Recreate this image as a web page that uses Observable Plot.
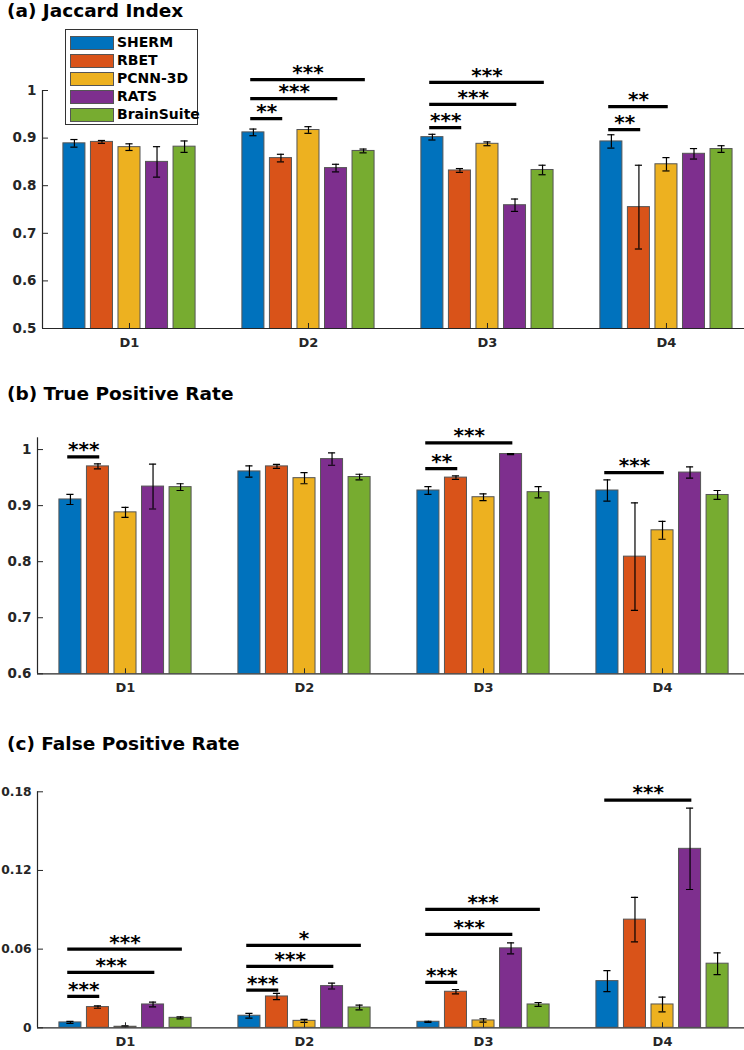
<!DOCTYPE html>
<html><head><meta charset="utf-8">
<script src="https://cdn.jsdelivr.net/npm/d3@7"></script>
<script src="https://cdn.jsdelivr.net/npm/@observablehq/plot@0.6"></script>
<style>
body{margin:0;background:#fff;}
#root{position:relative;width:744px;height:1050px;overflow:hidden;font-family:"DejaVu Sans",sans-serif;}
.title{position:absolute;left:7px;font-weight:bold;font-size:18.5px;line-height:20px;height:20px;color:#000;white-space:nowrap;}
.panel{position:absolute;left:0;}
.panel svg{display:block;overflow:visible;}
#legend{position:absolute;left:65px;top:29px;width:131px;height:94px;border:1.5px solid #333;background:#fff;}
.lrow{position:absolute;left:4px;height:13px;}
.sw{position:absolute;left:0;top:0;width:42px;height:12px;border:1px solid #555;}
.lt{position:absolute;left:47px;top:-4px;font-weight:bold;font-size:14px;line-height:20px;color:#000;white-space:nowrap;}
</style></head><body><div id="root"></div>
<script>
const methods = ["SHERM", "RBET", "PCNN-3D", "RATS", "BrainSuite"];
const colors = ["#0072BD", "#D95319", "#EDB120", "#7E2F8E", "#77AC30"];
const datasets = ["D1", "D2", "D3", "D4"];

// (a) Jaccard index: mean and error per dataset (rows) and method (columns)
const jaccardMean = [
  [0.889, 0.892, 0.881, 0.850, 0.882],
  [0.912, 0.858, 0.917, 0.837, 0.873],
  [0.902, 0.832, 0.888, 0.759, 0.833],
  [0.893, 0.755, 0.845, 0.867, 0.877]
];
const jaccardErr = [
  [0.008, 0.003, 0.007, 0.032, 0.012],
  [0.007, 0.008, 0.007, 0.008, 0.004],
  [0.006, 0.004, 0.004, 0.013, 0.010],
  [0.014, 0.088, 0.014, 0.011, 0.007]
];
// (b) True positive rate
const tprMean = [
  [0.911, 0.970, 0.888, 0.934, 0.933],
  [0.961, 0.970, 0.949, 0.983, 0.951],
  [0.927, 0.950, 0.915, 0.992, 0.924],
  [0.927, 0.809, 0.856, 0.959, 0.919]
];
const tprErr = [
  [0.009, 0.0045, 0.009, 0.040, 0.006],
  [0.010, 0.0035, 0.010, 0.011, 0.005],
  [0.007, 0.003, 0.006, 0.001, 0.010],
  [0.019, 0.096, 0.016, 0.010, 0.008]
];
// (c) False positive rate
const fprMean = [
  [0.0041, 0.0158, 0.0008, 0.0178, 0.0076],
  [0.0092, 0.0239, 0.0053, 0.0318, 0.0155],
  [0.0046, 0.0275, 0.0056, 0.0606, 0.0178],
  [0.0356, 0.0825, 0.0178, 0.1365, 0.0489]
];
const fprErr = [
  [0.0008, 0.0009, 0.0006, 0.0018, 0.0008],
  [0.0018, 0.0024, 0.0011, 0.0022, 0.0018],
  [0.0004, 0.0017, 0.0013, 0.0042, 0.0015],
  [0.0080, 0.0170, 0.0056, 0.0310, 0.0083]
];
// significance annotations: [dataset index, from method, to method, level, label]
const jaccardSig = [
  [1, 0, 1, 0.941, "**"], [1, 0, 3, 0.983, "***"], [1, 0, 4, 1.023, "***"],
  [2, 0, 1, 0.922, "***"], [2, 0, 3, 0.971, "***"], [2, 0, 4, 1.017, "***"],
  [3, 0, 1, 0.918, "**"], [3, 0, 2, 0.966, "**"]
];
const tprSig = [
  [0, 0, 1, 0.987, "***"],
  [2, 0, 1, 0.966, "**"], [2, 0, 3, 1.012, "***"],
  [3, 0, 2, 0.959, "***"]
];
const fprSig = [
  [0, 0, 1, 0.0239, "***"], [0, 0, 3, 0.0422, "***"], [0, 0, 4, 0.0600, "***"],
  [1, 0, 1, 0.0287, "***"], [1, 0, 3, 0.0468, "***"], [1, 0, 4, 0.0628, "*"],
  [2, 0, 1, 0.0346, "***"], [2, 0, 3, 0.0712, "***"], [2, 0, 4, 0.0903, "***"],
  [3, 0, 3, 0.1737, "***"]
];
const jaccardTicks = [0.5, 0.6, 0.7, 0.8, 0.9, 1];
const tprTicks = [0.6, 0.7, 0.8, 0.9, 1];
const fprTicks = [0, 0.06, 0.12, 0.18];

// MATLAB grouped bar geometry
const nM = methods.length;
const groupW = Math.min(0.8, nM / (nM + 1.5));
const OFF = groupW / nM;
const BW = 0.8 * OFF;

const root = document.getElementById("root");

function panel({title, titleTop, top, means, errs, sigs, yDomain, yTicks, yFmt, yFont, xDomain, marginLeft, marginTop, marginBottom}) {
  const bars = [];
  datasets.forEach((ds, g) => methods.forEach((m, i) => {
    bars.push({ds, m, i, c: g + 1 + (i - (nM - 1) / 2) * OFF, v: means[g][i], e: errs[g][i]});
  }));
  const caps = bars.flatMap(d => [{c: d.c, y: d.v - d.e}, {c: d.c, y: d.v + d.e}]);
  const sigRows = sigs.map(([g, a, b, y, label]) => ({
    x1: g + 1 + (a - (nM - 1) / 2) * OFF - 0.015,
    x2: g + 1 + (b - (nM - 1) / 2) * OFF + 0.01,
    y, label
  }));
  const axisColor = "#262626";
  const p = Plot.plot({
    width: 744, height: 350,
    marginLeft, marginRight: 0, marginTop, marginBottom,
    x: {domain: xDomain},
    y: {domain: yDomain},
    color: {domain: methods, range: colors},
    style: {fontFamily: "DejaVu Sans", fontWeight: "bold", fontSize: "13px", color: axisColor, background: "transparent", overflow: "visible"},
    marks: [
      Plot.rectY(bars, {x1: d => d.c - BW / 2, x2: d => d.c + BW / 2, y1: 0, y2: "v", fill: "m", stroke: "#555", strokeWidth: 1, clip: true}),
      Plot.ruleX(bars, {x: "c", y1: d => d.v - d.e, y2: d => d.v + d.e, stroke: "#000", strokeWidth: 1.2, clip: true}),
      Plot.ruleY(caps, {y: "y", x1: d => d.c - 0.02, x2: d => d.c + 0.02, stroke: "#000", strokeWidth: 1.2, clip: true}),
      Plot.ruleX([xDomain[0]], {stroke: axisColor, strokeWidth: 1.2}),
      Plot.ruleY([yDomain[0]], {stroke: axisColor, strokeWidth: 1.2}),
      Plot.axisY({ticks: yTicks, tickFormat: yFmt, tickSize: -6, tickPadding: 12, label: null, fontSize: yFont, stroke: axisColor}),
      Plot.axisX({ticks: [1, 2, 3, 4], tickFormat: d => datasets[d - 1], tickSize: -5, tickPadding: 14, label: null, fontSize: 13, stroke: axisColor}),
      Plot.ruleY(sigRows, {y: "y", x1: "x1", x2: "x2", stroke: "#000", strokeWidth: 3.2}),
      Plot.text(sigRows, {x: d => (d.x1 + d.x2) / 2, y: "y", text: "label", dy: -7, fontSize: 20, fontWeight: "bold", fill: "#000"})
    ]
  });
  const wrap = document.createElement("div");
  wrap.className = "panel";
  wrap.style.top = top + "px";
  wrap.appendChild(p);
  root.appendChild(wrap);
  const t = document.createElement("div");
  t.className = "title";
  t.style.top = titleTop + "px";
  t.textContent = title;
  root.appendChild(t);
}

panel({title: "(a) Jaccard Index", titleTop: 0.5, top: 0, means: jaccardMean, errs: jaccardErr, sigs: jaccardSig,
  yDomain: [0.5, 1.0], yTicks: jaccardTicks, yFmt: d => d3.format("~g")(d), yFont: 13.5,
  xDomain: [0.514, 4.436], marginLeft: 42, marginTop: 90, marginBottom: 22});
panel({title: "(b) True Positive Rate", titleTop: 383.8, top: 350, means: tprMean, errs: tprErr, sigs: tprSig,
  yDomain: [0.6, 1.021], yTicks: tprTicks, yFmt: d => d3.format("~g")(d), yFont: 13.5,
  xDomain: [0.5084, 4.458], marginLeft: 37, marginTop: 87.3, marginBottom: 26.7});
panel({title: "(c) False Positive Rate", titleTop: 733.8, top: 700, means: fprMean, errs: fprErr, sigs: fprSig,
  yDomain: [0, 0.18], yTicks: fprTicks, yFmt: d => d3.format("~g")(d), yFont: 12.3,
  xDomain: [0.5084, 4.458], marginLeft: 37, marginTop: 91.3, marginBottom: 22.7});

// legend (panel a)
const lg = document.createElement("div");
lg.id = "legend";
methods.forEach((m, i) => {
  const r = document.createElement("div");
  r.className = "lrow";
  r.style.top = (5.5 + 18.1 * i) + "px";
  const s = document.createElement("div");
  s.className = "sw";
  s.style.background = colors[i];
  const t = document.createElement("div");
  t.className = "lt";
  t.textContent = m;
  r.appendChild(s); r.appendChild(t);
  lg.appendChild(r);
});
root.appendChild(lg);
</script></body></html>
